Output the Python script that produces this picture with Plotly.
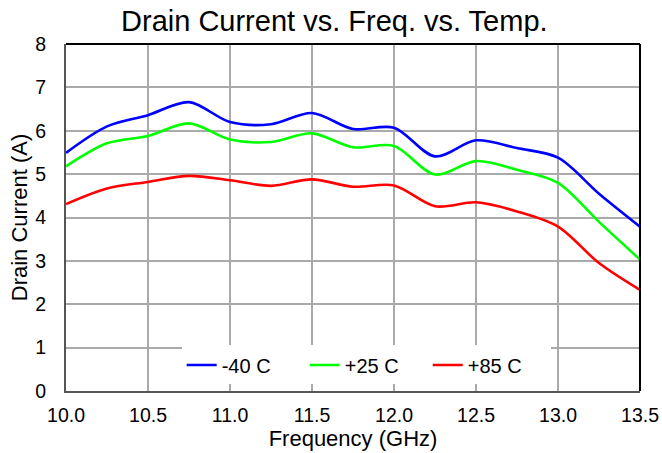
import plotly.graph_objects as go

freq = [10.0, 10.25, 10.5, 10.75, 11.0, 11.25, 11.5, 11.75, 12.0, 12.25, 12.5, 12.75, 13.0, 13.25, 13.5]
cur_m40 = [5.49, 6.10, 6.36, 6.66, 6.20, 6.15, 6.41, 6.04, 6.07, 5.41, 5.78, 5.60, 5.38, 4.55, 3.79]
cur_p25 = [5.18, 5.71, 5.88, 6.17, 5.80, 5.74, 5.94, 5.62, 5.65, 4.99, 5.30, 5.10, 4.80, 3.90, 3.03]
cur_p85 = [4.31, 4.67, 4.82, 4.96, 4.86, 4.73, 4.88, 4.71, 4.74, 4.26, 4.35, 4.14, 3.79, 2.95, 2.33]
series_names = ["-40 C", "+25 C", "+85 C"]
series_colors = ["#0000FF", "#00FF00", "#FF0000"]
x_ticks = [10.0, 10.5, 11.0, 11.5, 12.0, 12.5, 13.0, 13.5]
x_tick_labels = ["10.0", "10.5", "11.0", "11.5", "12.0", "12.5", "13.0", "13.5"]
y_ticks = [0, 1, 2, 3, 4, 5, 6, 7, 8]

FONT = "Liberation Sans, Arial, sans-serif"

fig = go.Figure()
for name, ys, col in zip(series_names, [cur_m40, cur_p25, cur_p85], series_colors):
    fig.add_trace(go.Scatter(x=freq, y=ys, name=name, mode="lines",
                             line=dict(color=col, width=2.6, shape="spline", smoothing=0.9)))

fig.update_layout(
    width=662, height=453,
    margin=dict(l=66, r=22, t=44, b=62, autoexpand=False),
    paper_bgcolor="white", plot_bgcolor="white",
    font=dict(family=FONT, color="black", size=19),
    title=dict(text="Drain Current vs. Freq. vs. Temp.", x=0.505, xanchor="center",
               y=0.955, yanchor="middle", font=dict(size=29, family=FONT)),
    xaxis=dict(range=[10.0, 13.5], tickvals=x_ticks, ticktext=x_tick_labels,
               showgrid=True, gridcolor="#aaaaaa", gridwidth=1.5,
               showline=True, linecolor="#555555", linewidth=2,
               ticks="outside", ticklen=6, tickcolor="rgba(0,0,0,0)",
               tickfont=dict(size=19.5), zeroline=False, automargin=False,
               title=dict(text="Frequency (GHz)", font=dict(size=22), standoff=0)),
    yaxis=dict(range=[0, 8], tickvals=y_ticks,
               showgrid=True, gridcolor="#aaaaaa", gridwidth=1.5,
               showline=True, linecolor="#555555", linewidth=2,
               ticks="outside", ticklen=14, tickcolor="rgba(0,0,0,0)",
               tickfont=dict(size=19.5), zeroline=False, automargin=False,
               title=dict(text="Drain Current (A)", font=dict(size=22), standoff=2)),
    legend=dict(orientation="h", x=0.523, xanchor="center", y=0.075, yanchor="middle",
                bgcolor="white", borderwidth=0, font=dict(size=20),
                entrywidth=78, entrywidthmode="pixels", itemwidth=30),
    showlegend=True,
)
# top and right frame in black
fig.add_shape(type="line", xref="paper", yref="paper", x0=0, x1=1, y0=1, y1=1,
              line=dict(color="black", width=2))
fig.add_shape(type="line", xref="paper", yref="paper", x0=1, x1=1, y0=0, y1=1,
              line=dict(color="black", width=2))

fig.write_html("out.html", config={"displayModeBar": False},
               post_script="document.body.style.margin='0';")
